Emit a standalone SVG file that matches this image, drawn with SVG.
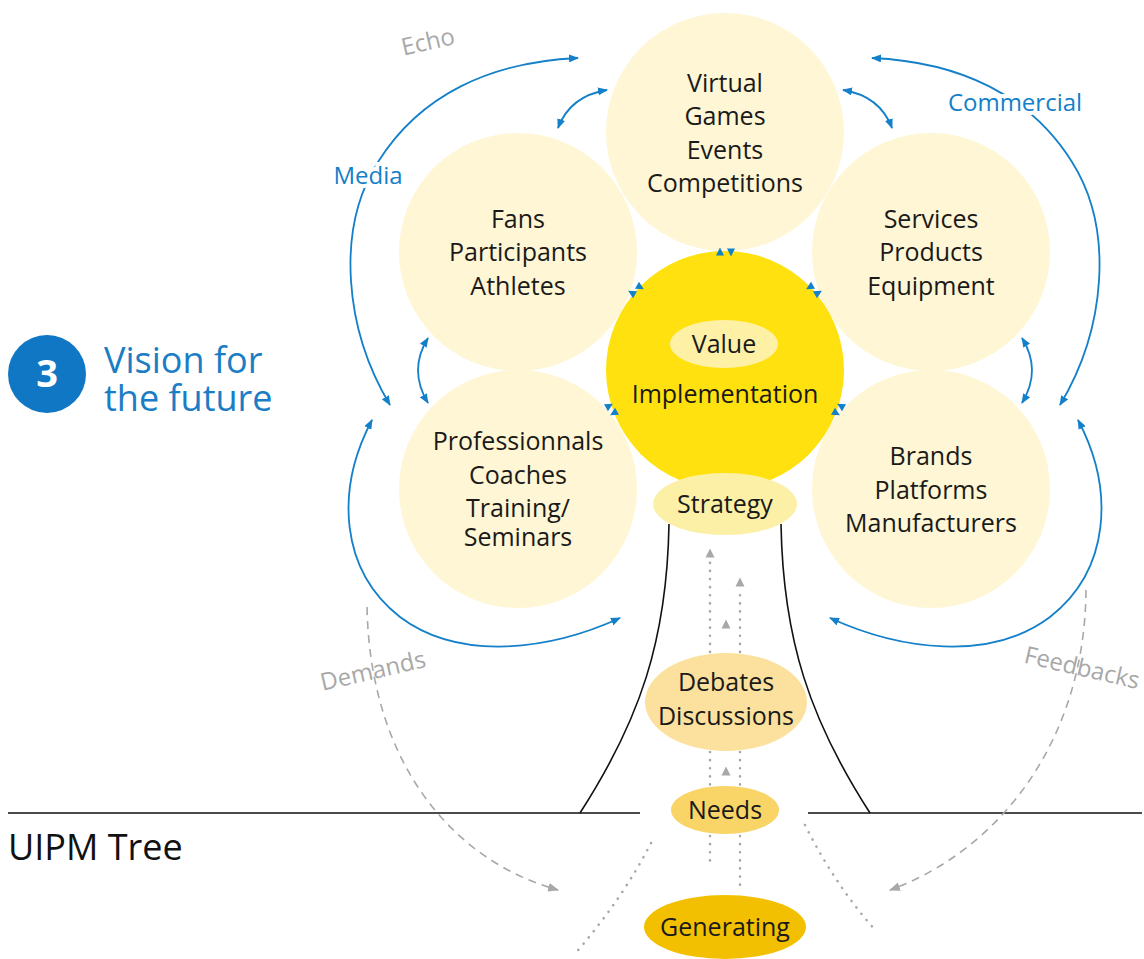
<svg xmlns="http://www.w3.org/2000/svg" width="1144" height="959" viewBox="0 0 1144 959">
<style>
.t{font-family:"Open Sans","Liberation Sans",sans-serif;font-size:25px;fill:#1a1a1a;text-anchor:middle}
.pale{fill:#FEF6D4}
.blueline{fill:none;stroke:#1380C9;stroke-width:1.8}
.lbl{font-family:"Open Sans","Liberation Sans",sans-serif;font-size:24px;text-anchor:middle}
.blue{fill:#1380C9}
.grey{fill:#A8A8A8}
.dash{fill:none;stroke:#A8A8A8;stroke-width:1.6;stroke-dasharray:8 6}
.dot{fill:none;stroke:#A8A8A8;stroke-width:2.6;stroke-linecap:round;stroke-dasharray:0.1 8}
.trunk{fill:none;stroke:#111;stroke-width:1.6}
</style>
<defs>
<marker id="ab" viewBox="0 0 10 8" refX="9" refY="4" markerWidth="10" markerHeight="8" markerUnits="userSpaceOnUse" orient="auto-start-reverse"><path d="M0,0 L10,4 L0,8 z" fill="#1380C9"/></marker>
<marker id="ag" viewBox="0 0 10 8" refX="9" refY="4" markerWidth="11" markerHeight="9" markerUnits="userSpaceOnUse" orient="auto"><path d="M0,0 L10,4 L0,8 z" fill="#A8A8A8"/></marker>
<path id="tri" d="M0,-4.5 L4,3.5 L-4,3.5 z" fill="#1380C9"/>
<path id="gtri" d="M0,-4.5 L4.5,4.5 L-4.5,4.5 z" fill="#A8A8A8"/>
</defs>
<rect width="1144" height="959" fill="#fff"/>

<g id="title">
<circle cx="47" cy="374" r="39" fill="#0F77C3"/>
<text x="47" y="387" font-family="'Open Sans','Liberation Sans',sans-serif" font-size="38" font-weight="bold" fill="#fff" text-anchor="middle">3</text>
<text font-family="'Open Sans','Liberation Sans',sans-serif" font-size="36" fill="#1A7DC5"><tspan x="104" y="373">Vision for</tspan><tspan x="104" y="411">the future</tspan></text>
</g>
<g id="uipm-tree-label">
<text x="8" y="860" font-family="'Open Sans','Liberation Sans',sans-serif" font-size="36" fill="#111">UIPM Tree</text>
</g>

<g id="ground">
<line x1="8" y1="813" x2="640" y2="813" stroke="#111" stroke-width="1.6"/>
<line x1="808" y1="813" x2="1142" y2="813" stroke="#111" stroke-width="1.6"/>
<path class="trunk" d="M669,524 C667,640 640,720 580,813"/>
<path class="trunk" d="M781,524 C783,640 810,720 870,813"/>
</g>

<g id="node-virtual">
<circle class="pale" cx="725" cy="132" r="119"/>
<text class="t"><tspan x="725" y="92">Virtual</tspan><tspan x="725" y="125">Games</tspan><tspan x="725" y="159">Events</tspan><tspan x="725" y="192">Competitions</tspan></text>
</g>
<g id="node-fans">
<circle class="pale" cx="518" cy="252" r="119"/>
<text class="t"><tspan x="518" y="228">Fans</tspan><tspan x="518" y="261">Participants</tspan><tspan x="518" y="295">Athletes</tspan></text>
</g>
<g id="node-services">
<circle class="pale" cx="931" cy="252" r="119"/>
<text class="t"><tspan x="931" y="228">Services</tspan><tspan x="931" y="261">Products</tspan><tspan x="931" y="295">Equipment</tspan></text>
</g>
<g id="node-professionnals">
<circle class="pale" cx="518" cy="489" r="119"/>
<text class="t"><tspan x="518" y="450">Professionnals</tspan><tspan x="518" y="484">Coaches</tspan><tspan x="518" y="517">Training/</tspan><tspan x="518" y="546">Seminars</tspan></text>
</g>
<g id="node-brands">
<circle class="pale" cx="931" cy="489" r="119"/>
<text class="t"><tspan x="931" y="465">Brands</tspan><tspan x="931" y="499">Platforms</tspan><tspan x="931" y="532">Manufacturers</tspan></text>
</g>
<g id="node-implementation">
<circle cx="725" cy="370" r="119" fill="#FFE10F"/>
<text class="t" x="725" y="403">Implementation</text>
</g>
<g id="node-value">
<ellipse cx="724" cy="344" rx="54" ry="24" fill="#FEF1A6"/>
<text class="t" x="724" y="353">Value</text>
</g>
<g id="node-strategy">
<ellipse cx="725" cy="504" rx="72" ry="31" fill="#FCF0A6"/>
<text class="t" x="725" y="513">Strategy</text>
</g>
<g id="node-debates">
<ellipse cx="726" cy="702" rx="81" ry="49" fill="#FBE19D"/>
<text class="t"><tspan x="726" y="691">Debates</tspan><tspan x="726" y="725">Discussions</tspan></text>
</g>
<g id="node-needs">
<ellipse cx="725" cy="810" rx="54" ry="24" fill="#F9D466"/>
<text class="t" x="725" y="819">Needs</text>
</g>
<g id="node-generating">
<ellipse cx="725" cy="927" rx="81" ry="32" fill="#F2C000"/>
<text class="t" x="725" y="936">Generating</text>
</g>

<g id="connectors">
<path class="blueline" d="M390,405 C345,330 335,230 378,162 C420,95 490,62 578,58" marker-start="url(#ab)" marker-end="url(#ab)"/>
<path class="blueline" d="M1060,405 C1105,330 1115,230 1072,162 C1030,95 960,62 872,58" marker-start="url(#ab)" marker-end="url(#ab)"/>
<path class="blueline" d="M372,420 C335,490 340,570 400,617 C460,662 550,650 620,618" marker-start="url(#ab)" marker-end="url(#ab)"/>
<path class="blueline" d="M1078,420 C1115,490 1110,570 1050,617 C990,662 900,650 830,618" marker-start="url(#ab)" marker-end="url(#ab)"/>
<path class="blueline" d="M558,128 Q570,96 607,90" marker-start="url(#ab)" marker-end="url(#ab)"/>
<path class="blueline" d="M892,128 Q880,96 843,90" marker-start="url(#ab)" marker-end="url(#ab)"/>
<path class="blueline" d="M428,338 Q408,370 428,403" marker-start="url(#ab)" marker-end="url(#ab)"/>
<path class="blueline" d="M1022,338 Q1042,370 1022,403" marker-start="url(#ab)" marker-end="url(#ab)"/>

<use href="#tri" transform="translate(720,252)"/>
<use href="#tri" transform="translate(731,252) rotate(180)"/>
<use href="#tri" transform="translate(632,293) rotate(-60)"/>
<use href="#tri" transform="translate(640,287) rotate(120)"/>
<use href="#tri" transform="translate(818,293) rotate(60)"/>
<use href="#tri" transform="translate(810,287) rotate(-120)"/>
<use href="#tri" transform="translate(609,406) rotate(60)"/>
<use href="#tri" transform="translate(614,413) rotate(-120)"/>
<use href="#tri" transform="translate(841,406) rotate(-60)"/>
<use href="#tri" transform="translate(836,413) rotate(120)"/>

<path class="dot" d="M710,652 L710,558 M710,752 L710,786 M710,836 L710,862"/>
<path class="dot" d="M740,652 L740,588 M740,752 L740,786 M740,836 L740,887"/>
<use href="#gtri" transform="translate(710,553)"/>
<use href="#gtri" transform="translate(740,582)"/>
<use href="#gtri" transform="translate(726,624)"/>
<use href="#gtri" transform="translate(726,771)"/>
<path class="dot" d="M651,843 Q622,900 573,956"/>
<path class="dot" d="M805,825 Q835,885 876,931"/>

<path class="dash" d="M367,607 C370,760 450,860 558,890" marker-end="url(#ag)"/>
<path class="dash" d="M1086,590 C1085,740 1000,850 890,890" marker-end="url(#ag)"/>

<text class="lbl blue" x="368" y="184" font-size="25" stroke="#fff" stroke-width="8" paint-order="stroke">Media</text>
<text class="lbl blue" x="1015" y="111" font-size="25" stroke="#fff" stroke-width="8" paint-order="stroke">Commercial</text>
<text class="lbl grey" transform="translate(428,42) rotate(-13)" y="8">Echo</text>
<text class="lbl grey" transform="translate(373,671) rotate(-13)" y="8">Demands</text>
<text class="lbl grey" transform="translate(1082,668) rotate(13)" y="8">Feedbacks</text>
</g>
</svg>
